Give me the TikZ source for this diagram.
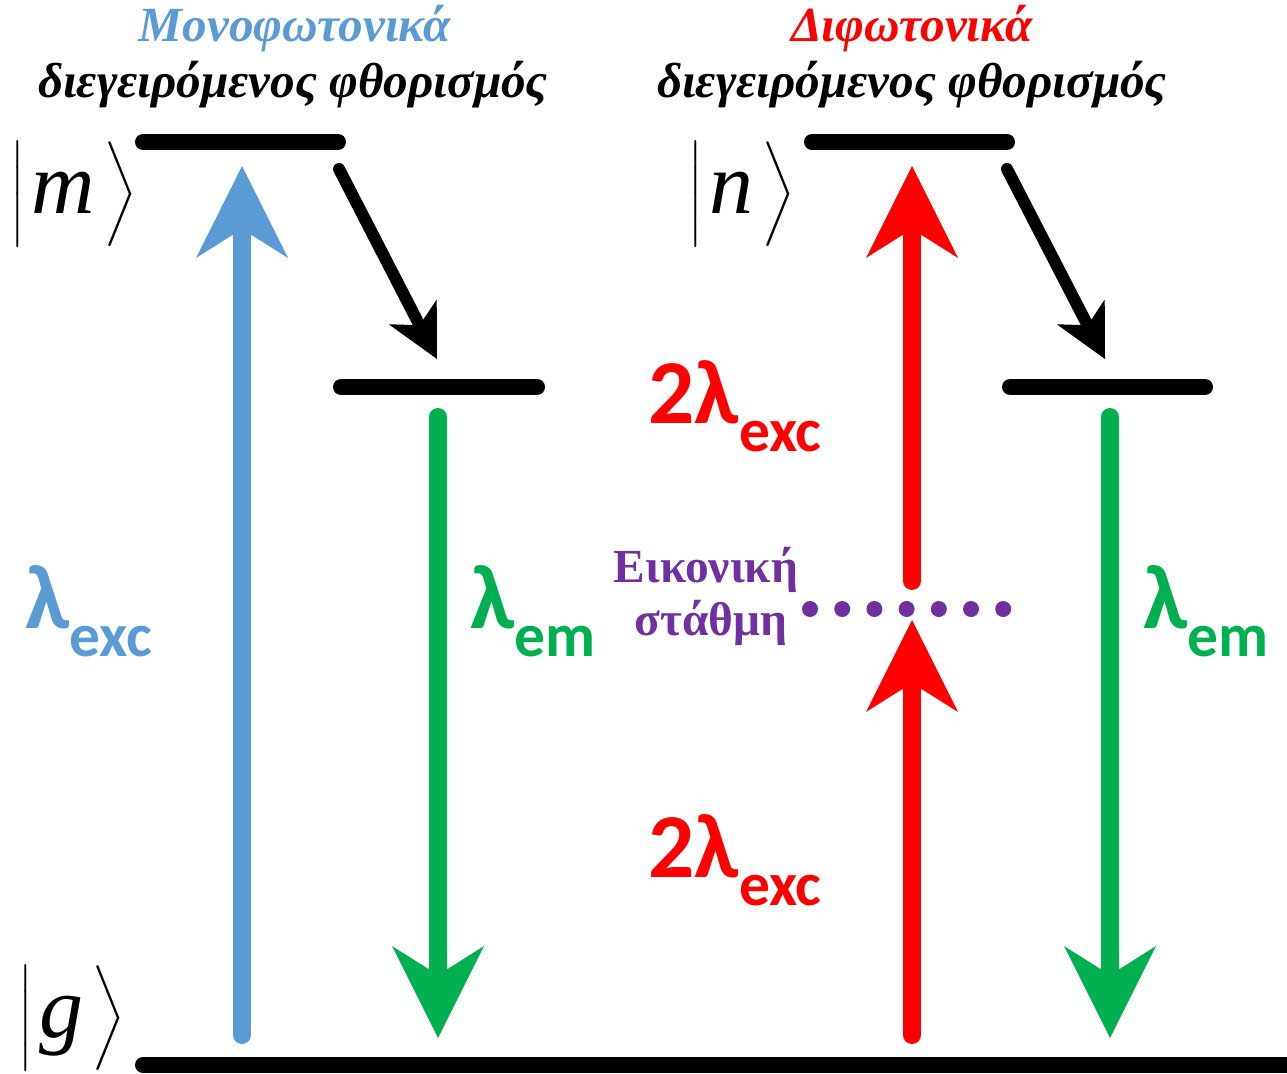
\documentclass[tikz,border=0pt]{standalone}
\usepackage{amsmath}
\usepackage{fontspec}
\setmainfont{Liberation Serif}
\newfontfamily\calfont{Carlito}
\usetikzlibrary{arrows.meta}
\definecolor{onephoton}{HTML}{5B9BD5}
\definecolor{twophoton}{HTML}{FF0000}
\definecolor{emission}{HTML}{00B050}
\definecolor{virtual}{HTML}{7030A0}

\newcommand{\ketlabel}[1]{\fontsize{51}{61}\selectfont
  $\left|\vcenter to 58pt{}\text{\hspace{4pt}\raisebox{-5pt}{\fontsize{50}{60}\selectfont\itshape #1}\hspace{5pt}}\right\rangle$}
\newcommand{\wavelabel}[2]{{\fontsize{52}{52}\selectfont #1}%
  \raisebox{-16pt}{\fontsize{35}{35}\selectfont #2}}

\begin{document}
\begin{tikzpicture}[
  x=0.02cm, y=-0.02cm,
  level/.style={line width=0.32cm, line cap=round},
  excite/.style={line width=0.36cm, line cap=round,
                 -{Stealth[length=1.84cm, width=1.84cm, inset=0.58cm, line width=0pt]}},
  relax/.style={line width=0.24cm, line cap=round,
                -{Stealth[length=1.06cm, width=1.08cm, inset=0.3cm, line width=0pt]}},
  title/.style={font=\bfseries\itshape\fontsize{28}{34}\selectfont, inner sep=0pt, anchor=base},
  ket/.style={inner sep=0pt, anchor=west},
  wave/.style={font=\calfont\bfseries, inner sep=0pt, anchor=base west},
  vlabel/.style={font=\bfseries\fontsize{27}{32}\selectfont, text=virtual, inner sep=0pt, anchor=base},
]
\useasboundingbox (0,0) rectangle (1287,1074);

% titles
\node[title, text=onephoton] (t1) at (295, 42) {Μονοφωτονικά};
\node[title] (s1) at (293, 98) {διεγειρόμενος φθορισμός};
\node[title, text=twophoton] (t2) at (912, 42) {Διφωτονικά};
\node[title] (s2) at (912, 98) {διεγειρόμενος φθορισμός};

% states
\node[ket] (km) at (10, 194) {\ketlabel{m}};
\node[ket] (kn) at (688, 194) {\ketlabel{n}};
\node[ket] (kg) at (18, 1018) {\ketlabel{g}};

% levels
\coordinate (m1) at (143, 142);  \coordinate (m2) at (338, 142);
\coordinate (n1) at (812, 142);  \coordinate (n2) at (1007, 142);
\coordinate (a1) at (341, 387);  \coordinate (a2) at (537, 387);
\coordinate (b1) at (1010, 387); \coordinate (b2) at (1205, 387);
\coordinate (g1) at (143, 1065); \coordinate (g2) at (1300, 1065);
\draw[level] (m1) -- (m2);
\draw[level] (n1) -- (n2);
\draw[level] (a1) -- (a2);
\draw[level] (b1) -- (b2);
\draw[level] (g1) -- (g2);

% one-photon
\coordinate (ex0) at (242, 1035); \coordinate (ex1) at (242, 166);
\coordinate (r0) at (339, 169);   \coordinate (r1) at (437, 359);
\coordinate (em0) at (438, 417);  \coordinate (em1) at (438, 1038);
\draw[excite, onephoton] (ex0) -- (ex1);
\draw[relax] (r0) -- (r1);
\draw[excite, emission] (em0) -- (em1);

% two-photon
\coordinate (tp0) at (912, 1035); \coordinate (tp1) at (912, 620);
\coordinate (tp2) at (912, 581);  \coordinate (tp3) at (912, 166);
\coordinate (q0) at (1007, 169);  \coordinate (q1) at (1105, 359);
\coordinate (fl0) at (1110, 417); \coordinate (fl1) at (1110, 1038);
\draw[excite, twophoton] (tp0) -- (tp1);
\draw[excite, twophoton] (tp2) -- (tp3);
\draw[relax] (q0) -- (q1);
\draw[excite, emission] (fl0) -- (fl1);

% virtual state
\foreach \i in {0,...,6}
  \fill[virtual] (810+32.2*\i, 609) circle (0.16cm);
\node[vlabel] (v1) at (706, 582) {Εικονική};
\node[vlabel] (v2) at (711, 635) {στάθμη};

% wavelengths
\node[wave, text=onephoton] (l1) at (25, 628) {\wavelabel{λ}{exc}};
\node[wave, text=emission] (l2) at (470, 628) {\wavelabel{λ}{em}};
\node[wave, text=emission] (l3) at (1143, 628) {\wavelabel{λ}{em}};
\node[wave, text=twophoton] (l4) at (648, 423) {\wavelabel{2λ}{exc}};
\node[wave, text=twophoton] (l5) at (648, 877) {\wavelabel{2λ}{exc}};

\end{tikzpicture}
\end{document}
